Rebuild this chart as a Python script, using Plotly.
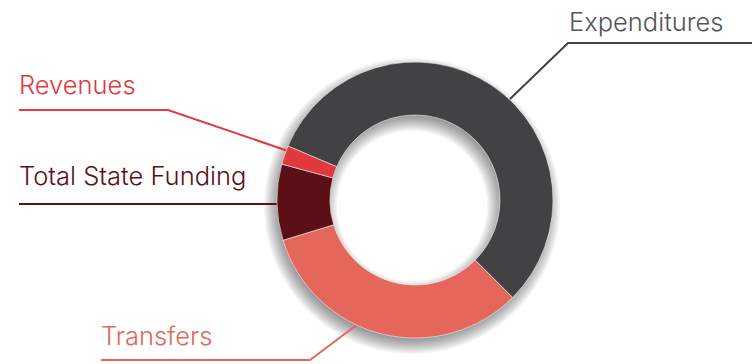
import numpy as np
import plotly.graph_objects as go

# ---- data ----
categories = ["Expenditures", "Transfers", "Total State Funding", "Revenues"]
values = [56.1, 32.8, 8.9, 2.2]
colors = ["#424244", "#E5665A", "#5B0F17", "#E0393F"]
label_colors = ["#555557", "#E5665A", "#5B0F17", "#E0393F"]

W, H = 752, 364
CX, CY, R_OUT, R_IN = 415, 200, 138, 85


def px(x):
    return x / W


def py(y):
    return 1 - y / H


def ring_path(cx, cy, ro, ri, n=120):
    t = np.linspace(0, 2 * np.pi, n, endpoint=False)
    outer = [(cx + ro * np.cos(a), cy + ro * np.sin(a)) for a in t]
    inner = [(cx + ri * np.cos(a), cy - ri * np.sin(a)) for a in t]
    def sub(pts):
        s = "M%.5f,%.5f" % (px(pts[0][0]), py(pts[0][1]))
        for x, y in pts[1:]:
            s += " L%.5f,%.5f" % (px(x), py(y))
        return s + " Z"
    return sub(outer) + " " + sub(inner)


fig = go.Figure()
fig.add_trace(go.Pie(
    labels=categories,
    values=values,
    sort=False,
    direction="clockwise",
    rotation=293,
    hole=R_IN / R_OUT,
    marker=dict(colors=colors, line=dict(color="#f4f4f4", width=0.6)),
    textinfo="none",
    hoverinfo="label+percent",
    showlegend=False,
    domain=dict(x=[px(CX - R_OUT), px(CX + R_OUT)],
                y=[py(CY + R_OUT), py(CY - R_OUT)]),
))

shapes = []
# soft drop shadow (blurred, offset ring)
ox, oy = -3, 6
steps = np.linspace(-10, 10, 16)
for d in steps:
    shapes.append(dict(
        type="path", xref="paper", yref="paper", layer="below",
        path=ring_path(CX + ox, CY + oy, R_OUT + d, max(R_IN - d, 1)),
        fillcolor="rgba(0,0,0,0.04)", line=dict(width=0),
    ))

# leader lines
leaders = [
    ([(19, 110), (168, 110), (288, 151)], label_colors[3]),
    ([(19, 204), (280, 204)], label_colors[2]),
    ([(101, 360), (310, 360), (358, 324)], label_colors[1]),
    ([(752, 43), (568, 43), (510, 99)], "#424244"),
]
for pts, c in leaders:
    p = "M%.5f,%.5f" % (px(pts[0][0]), py(pts[0][1]))
    for x, y in pts[1:]:
        p += " L%.5f,%.5f" % (px(x), py(y))
    shapes.append(dict(type="path", xref="paper", yref="paper", layer="below",
                       path=p, line=dict(color=c, width=2)))

# labels
label_pos = {
    "Revenues": (17, 84),
    "Total State Funding": (17, 175),
    "Transfers": (99, 335),
    "Expenditures": (567, 21),
}
annotations = []
for cat, col in zip(categories, label_colors):
    x, y = label_pos[cat]
    annotations.append(dict(
        x=px(x), y=py(y), xref="paper", yref="paper",
        xanchor="left", yanchor="middle", showarrow=False,
        text=cat,
        font=dict(family="Inter", size=25.5, color=col, weight=300),
    ))

fig.update_layout(
    width=W, height=H,
    margin=dict(l=0, r=0, t=0, b=0),
    paper_bgcolor="white", plot_bgcolor="white",
    shapes=shapes, annotations=annotations,
)
fig.write_html("out.html")
